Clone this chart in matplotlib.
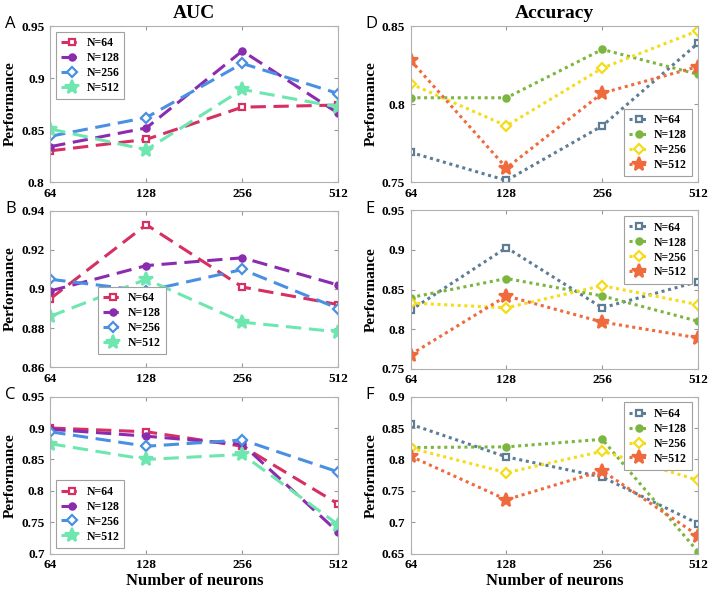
import matplotlib
matplotlib.use('Agg')
import matplotlib.pyplot as plt

plt.rcParams['font.family'] = ['Liberation Serif', 'DejaVu Serif']
plt.rcParams['font.weight'] = 'bold'
plt.rcParams['axes.titleweight'] = 'bold'
plt.rcParams['axes.labelweight'] = 'bold'

neurons = [64, 128, 256, 512]
xpos = [0, 1, 2, 3]
labels = ['N=64', 'N=128', 'N=256', 'N=512']

# AUC panels
aucA = [[0.830, 0.841, 0.872, 0.874],
        [0.834, 0.852, 0.926, 0.866],
        [0.844, 0.862, 0.914, 0.885],
        [0.851, 0.831, 0.889, 0.872]]
aucB = [[0.895, 0.933, 0.901, 0.892],
        [0.899, 0.912, 0.916, 0.902],
        [0.905, 0.899, 0.910, 0.890],
        [0.886, 0.905, 0.883, 0.878]]
aucC = [[0.900, 0.894, 0.871, 0.779],
        [0.898, 0.887, 0.874, 0.734],
        [0.894, 0.871, 0.881, 0.830],
        [0.875, 0.850, 0.858, 0.746]]

# Accuracy panels
accD = [[0.769, 0.751, 0.786, 0.839],
        [0.804, 0.804, 0.835, 0.819],
        [0.813, 0.786, 0.823, 0.847],
        [0.828, 0.759, 0.807, 0.824]]
accE = [[0.824, 0.903, 0.827, 0.860],
        [0.840, 0.864, 0.842, 0.810],
        [0.833, 0.827, 0.855, 0.831],
        [0.768, 0.842, 0.809, 0.789]]
accF = [[0.856, 0.804, 0.772, 0.698],
        [0.819, 0.820, 0.832, 0.653],
        [0.818, 0.779, 0.813, 0.767],
        [0.805, 0.736, 0.782, 0.679]]

aucColors = ['#d62f62', '#8b2cb0', '#4a90e2', '#6ee6b0']
accColors = ['#5e7d94', '#7cb540', '#f5dc1a', '#ef6a3c']

markers = ['s', 'o', 'D', '*']
msizes = [4, 4.5, 5, 10]
faces = ['white', None, 'white', None]


def panel(rect, data, colors, ls, yticks, yticklabels, letter,
          legloc, legbox=None, xlabel=False, title=None):
    ax = fig.add_axes(rect)
    for i in range(4):
        fc = faces[i] if faces[i] else colors[i]
        if ls == 'dash':
            ax.plot(xpos, data[i], color=colors[i], linewidth=2.2,
                    linestyle=(0, (5, 2.5)), marker=markers[i], ms=msizes[i],
                    mfc=fc, mec=colors[i], mew=1.6, label=labels[i])
        else:
            ax.plot(xpos, data[i], color=colors[i], linewidth=2.2,
                    linestyle=(0, (1, 1.2)), marker=markers[i], ms=msizes[i],
                    mfc=fc, mec=colors[i], mew=1.6, label=labels[i])
    ax.set_xlim(0, 3)
    ax.set_ylim(yticks[0], yticks[-1])
    ax.set_xticks(xpos)
    ax.set_xticklabels([str(n) for n in neurons], fontsize=9.5, fontweight='bold')
    ax.set_yticks(yticks)
    ax.set_yticklabels(yticklabels, fontsize=9.5, fontweight='bold')
    ax.tick_params(direction='in', top=True, right=True, length=3,
                   color='#999999', pad=4)
    for s in ax.spines.values():
        s.set_color('#b0b0b0')
        s.set_linewidth(0.8)
    ax.set_ylabel('Performance', fontsize=11, fontweight='bold', labelpad=3)
    if xlabel:
        ax.set_xlabel('Number of neurons', fontsize=12, fontweight='bold', labelpad=1)
    if title:
        ax.set_title(title, fontsize=14, fontweight='bold', pad=6)
    kw = dict(loc=legloc, handlelength=1.7, handletextpad=0.4,
              labelspacing=0.25, borderpad=0.45, fancybox=False,
              framealpha=1, edgecolor='#a0a0a0',
              prop={'size': 8.5, 'weight': 'bold'})
    if legbox:
        kw['bbox_to_anchor'] = legbox
    leg = ax.legend(**kw)
    leg.get_frame().set_linewidth(0.8)
    fig.text(rect[0] - 0.064, rect[1] + rect[3] + 0.003, letter,
             fontsize=12, family='Open Sans', weight='normal',
             ha='left', va='center')
    return ax


fig = plt.figure(figsize=(7.08, 5.91), dpi=100)

lx, rx = 0.071, 0.580
w = 0.407
hA = 0.264

panel([lx, 0.692, w, hA], aucA, aucColors, 'dash',
      [0.8, 0.85, 0.9, 0.95], ['0.8', '0.85', '0.9', '0.95'], 'A',
      'upper left', title='AUC')
panel([lx, 0.379, w, hA], aucB, aucColors, 'dash',
      [0.86, 0.88, 0.90, 0.92, 0.94], ['0.86', '0.88', '0.9', '0.92', '0.94'], 'B',
      'lower left', legbox=(0.145, 0.045))
panel([lx, 0.063, w, 0.266], aucC, aucColors, 'dash',
      [0.7, 0.75, 0.8, 0.85, 0.9, 0.95], ['0.7', '0.75', '0.8', '0.85', '0.9', '0.95'], 'C',
      'lower left', xlabel=True)

panel([rx, 0.692, 0.406, hA], accD, accColors, 'dot',
      [0.75, 0.8, 0.85], ['0.75', '0.8', '0.85'], 'D',
      'lower right', title='Accuracy')
panel([rx, 0.376, 0.406, 0.268], accE, accColors, 'dot',
      [0.75, 0.8, 0.85, 0.9, 0.95], ['0.75', '0.8', '0.85', '0.9', '0.95'], 'E',
      'upper right')
panel([rx, 0.063, 0.406, 0.266], accF, accColors, 'dot',
      [0.65, 0.7, 0.75, 0.8, 0.85, 0.9], ['0.65', '0.7', '0.75', '0.8', '0.85', '0.9'], 'F',
      'upper right', xlabel=True)

fig.savefig('out.png', dpi=100)
